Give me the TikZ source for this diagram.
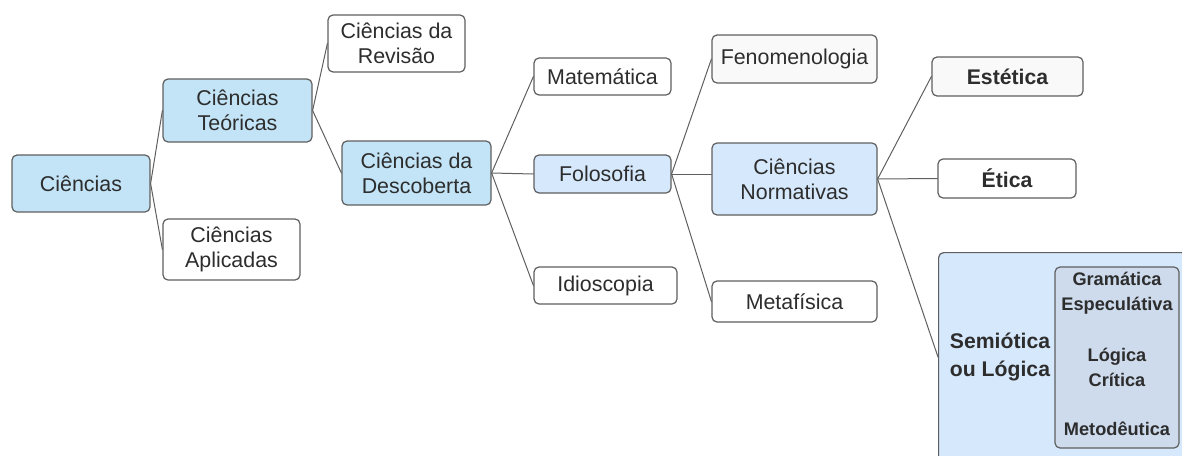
\documentclass[tikz,border=0pt]{standalone}
\usepackage{fontspec}
\setmainfont{Liberation Sans}
\definecolor{linegray}{RGB}{95,95,95}
\definecolor{txtgray}{RGB}{45,45,45}
\definecolor{skyfill}{RGB}{194,228,246}
\definecolor{palefill}{RGB}{214,232,252}
\definecolor{innerfill}{RGB}{205,219,237}
\definecolor{greyfill}{RGB}{249,249,249}
\tikzset{
  box/.style={draw=linegray, line width=0.6pt, rounded corners=2.5pt, align=center, inner sep=0pt, text=txtgray, fill=white, font=\fontsize{10.7}{12.5}\selectfont},
  bbox/.style={box, font=\fontsize{10.6}{12.5}\selectfont\bfseries},
  wh/.style 2 args={minimum width=#1*0.5pt, minimum height=#2*0.5pt},
  link/.style={draw=linegray, line width=0.5pt},
}
\begin{document}
\begin{tikzpicture}[x=0.5pt, y=-0.5pt, line cap=round, line join=round]
            \clip(0,0)rectangle(1182,455);
            \node[box, wh={138}{57}, fill=skyfill](cien)at(81,183.5){Ciências};
            \node[box, wh={149}{63}, fill=skyfill](teor)at(237.5,110.5){Ciências\\Teóricas};
            \node[box, wh={137}{61}](apli)at(231.5,249.5){Ciências\\Aplicadas};
            \node[box, wh={137}{57}](revi)at(396.5,43.5){Ciências da\\Revisão};
            \node[box, wh={149}{64}, fill=skyfill](desc)at(416.5,173){Ciências da\\Descoberta};
            \node[box, wh={137}{37}](mate)at(602.5,76.5){Matemática};
            \node[box, wh={137}{38}, fill=palefill](folo)at(602.5,174){Folosofia};
            \node[box, wh={143}{37}](idio)at(605.5,285.5){Idioscopia};
            \node[box, wh={165}{48}, fill=greyfill](feno)at(794.5,59){Fenomenologia};
            \node[box, wh={165}{72}, fill=palefill](norm)at(794.5,179){Ciências\\Normativas};
            \node[box, wh={165}{41}](meta)at(794.5,301.5){Metafísica};
            \node[bbox, wh={151}{39}, fill=greyfill](este)at(1007.5,76.5){Estética};
            \node[bbox, wh={138}{39}](etic)at(1007,178.5){Ética};
            % bloco da semiotica (cortado na borda)
            \node[box, wh={280}{240}, fill=palefill, anchor=north west](semio)at(938,252){};
            \node[text=txtgray, align=center, inner sep=0pt, font=\fontsize{10.6}{14}\selectfont\bfseries](semtxt)at(1000,357){Semiótica\\ou Lógica};
            \node[box, wh={124}{181}, fill=innerfill](ramos)at(1117,357.5){};
            \foreach \n/\y/\t in{gram/293.5/Gramática\\Especulátiva, logi/367.5/Lógica\\Crítica, meto/429/Metodêutica}
            \node[text=txtgray, align=center, inner sep=0pt, font=\fontsize{9.1}{12.5}\selectfont\bfseries](\n)at(1117,\y){\t};
            \foreach \a/\b in{cien/teor, cien/apli, teor/revi, teor/desc, desc/mate, desc/folo, desc/idio, folo/feno, folo/meta, norm/este, norm/etic}
            \draw[link](\a.east)--(\b.west);
            \draw[link](folo.east)--(folo.east-|norm.west);
            \draw[link](norm.east)--(semio.west|-semtxt.center);
        \end{tikzpicture}
\end{document}
